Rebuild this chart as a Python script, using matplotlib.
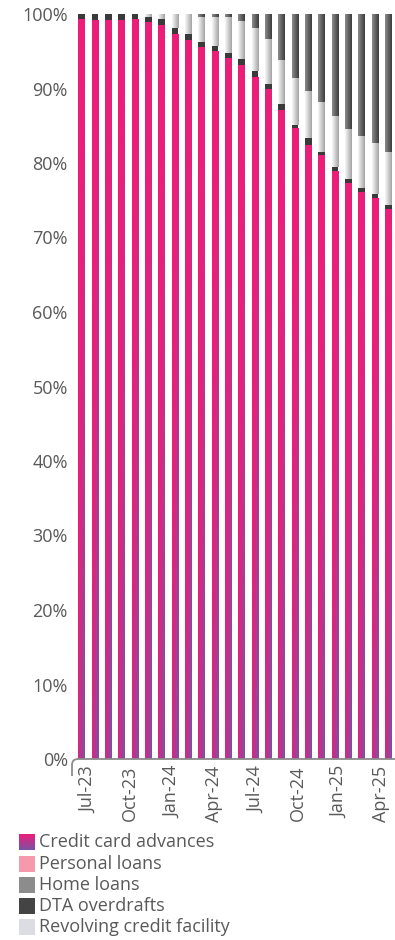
import numpy as np
import matplotlib
matplotlib.use("Agg")
import matplotlib.pyplot as plt
from matplotlib.colors import to_rgb
from matplotlib.patches import Rectangle
from matplotlib.path import Path
from matplotlib.patches import PathPatch

plt.rcParams['font.family'] = ['Open Sans', 'DejaVu Sans']

# ---------------- data ----------------
months = ["Jun-23", "Jul-23", "Aug-23", "Sep-23", "Oct-23", "Nov-23", "Dec-23",
          "Jan-24", "Feb-24", "Mar-24", "Apr-24", "May-24", "Jun-24", "Jul-24",
          "Aug-24", "Sep-24", "Oct-24", "Nov-24", "Dec-24", "Jan-25", "Feb-25",
          "Mar-25", "Apr-25", "May-25"]
credit_card = [99.2, 99.1, 99.1, 99.1, 99.2, 98.8, 98.5, 97.3, 96.4, 95.5, 94.9, 94.0,
               93.1, 91.5, 89.8, 87.0, 84.6, 82.4, 81.0, 78.8, 77.3, 76.1, 75.3, 73.7]
personal_loans = [0.0] * 24
dta_overdrafts = [0.8, 0.9, 0.9, 0.9, 0.8, 0.8, 0.85, 0.85, 0.85, 0.8, 0.8, 0.8,
                  0.8, 0.8, 0.85, 0.95, 0.55, 1.0, 0.5, 0.65, 0.55, 0.6, 0.55, 0.7]
revolving = [0.0, 0.0, 0.0, 0.0, 0.0, 0.4, 0.65, 1.85, 2.75, 3.35, 3.95, 4.85,
             5.2, 5.8, 6.0, 5.9, 6.3, 6.25, 6.7, 6.85, 6.7, 6.95, 6.85, 7.1]
home_loans = [0.0, 0.0, 0.0, 0.0, 0.0, 0.0, 0.0, 0.0, 0.0, 0.35, 0.35, 0.35,
              0.9, 1.9, 3.35, 6.15, 8.55, 10.35, 11.8, 13.7, 15.45, 16.35, 17.3, 18.5]
tick_labels = ["Jul-23", "Oct-23", "Jan-24", "Apr-24", "Jul-24", "Oct-24", "Jan-25", "Apr-25"]
legend_labels = ["Credit card advances", "Personal loans", "Home loans",
                 "DTA overdrafts", "Revolving credit facility"]

# ---------------- style ----------------
PINK = '#EC1E79'
PURPLE = '#7A52A5'
C_PERSONAL = '#F49AAC'
C_HOME_L, C_HOME_R = '#8A8A8A', '#3E3E3E'
C_DTA = '#3A3A3A'
C_REV_L, C_REV_R = '#F7F7F7', '#A4A4A4'
TXT = '#595959'

W, H = 395, 940
fig = plt.figure(figsize=(W / 100, H / 100), dpi=100)
ax = fig.add_axes([72 / W, 1 - 759 / H, (W - 72) / W, (759 - 14) / H])

x = np.arange(len(months))
bw = 0.5


def lerp(c1, c2, t):
    c1, c2 = np.array(to_rgb(c1)), np.array(to_rgb(c2))
    t = np.clip(t, 0, 1)[..., None]
    return c1 * (1 - t) + c2 * t


def pink_grad(ny=80, nx=16):
    u = np.linspace(0, 1, nx)[None, :]
    v = np.linspace(0, 1, ny)[:, None]
    t = (u + v) / 2
    s = np.clip((t - 0.42) / 0.58, 0, 1)
    return lerp(PINK, PURPLE, s)


def hgrad(cl, cr, ny=4, nx=16):
    u = np.linspace(0, 1, nx)[None, :].repeat(ny, axis=0)
    return lerp(cl, cr, u)


series = [
    (credit_card, PINK, lambda: pink_grad()),
    (personal_loans, C_PERSONAL, None),
    (dta_overdrafts, C_DTA, None),
    (revolving, C_REV_L, lambda: hgrad(C_REV_L, C_REV_R)),
    (home_loans, C_HOME_L, lambda: hgrad(C_HOME_L, C_HOME_R)),
]

bottom = np.zeros(len(months))
for vals, col, gfun in series:
    vals = np.array(vals, dtype=float)
    bars = ax.bar(x, vals, bw, bottom=bottom, color=col, linewidth=0, zorder=2)
    if gfun is not None:
        for p in bars.patches:
            if p.get_height() <= 0:
                continue
            x0, y0 = p.get_x(), p.get_y()
            ax.imshow(gfun(), extent=[x0, x0 + p.get_width(), y0, y0 + p.get_height()],
                      origin='upper', aspect='auto', interpolation='bilinear', zorder=3)
    bottom += vals

ax.set_xlim(-0.73, 23.5)
ax.set_ylim(0, 100)
ax.set_yticks(np.arange(0, 101, 10))
ax.set_yticklabels([f"{v}%" for v in range(0, 101, 10)])
tick_pos = 0.5 + 3.14 * np.arange(len(tick_labels))
ax.set_xticks(tick_pos)
ax.set_xticklabels(tick_labels, rotation=90, ha='center', va='top')
ax.tick_params(axis='y', length=0, pad=3, labelsize=13, labelcolor=TXT)
ax.tick_params(axis='x', length=0, pad=5, labelsize=13, labelcolor=TXT)
for s in ax.spines.values():
    s.set_visible(False)

# axis baseline with rounded corner
fx = lambda px: px / W
fy = lambda py: 1 - py / H
verts = [(fx(72), fy(776)), (fx(72), fy(765)), (fx(72), fy(759)), (fx(78), fy(759)), (fx(395), fy(759))]
codes = [Path.MOVETO, Path.LINETO, Path.CURVE3, Path.CURVE3, Path.LINETO]
fig.add_artist(PathPatch(Path(verts, codes), transform=fig.transFigure, fill=False,
                         edgecolor='#8C8C8C', linewidth=1.3, zorder=10))

# ---------------- legend ----------------
lax = fig.add_axes([0, 0, 1, 125 / H])
lax.set_xlim(0, W)
lax.set_ylim(940, 815)
lax.axis('off')
lax.patch.set_alpha(0)
leg_colors = [None, C_PERSONAL, '#8C8C8C', '#444444', '#DCDDE2']
row_y = [842.5, 863.7, 884.8, 905.9, 927.0]
for lab, col, yc in zip(legend_labels, leg_colors, row_y):
    if col is None:
        g = lerp(PINK, PURPLE, np.linspace(0, 1, 32)[:, None].repeat(4, axis=1))
        lax.imshow(g, extent=[19, 35, yc + 8, yc - 8], aspect='auto', interpolation='bilinear')
    else:
        lax.add_patch(Rectangle((19, yc - 8), 16, 16, facecolor=col, edgecolor='none'))
    lax.text(39, yc, lab, fontsize=13, color=TXT, va='center', ha='left')
lax.set_xlim(0, W)
lax.set_ylim(940, 815)

fig.savefig("out.png", dpi=100)
